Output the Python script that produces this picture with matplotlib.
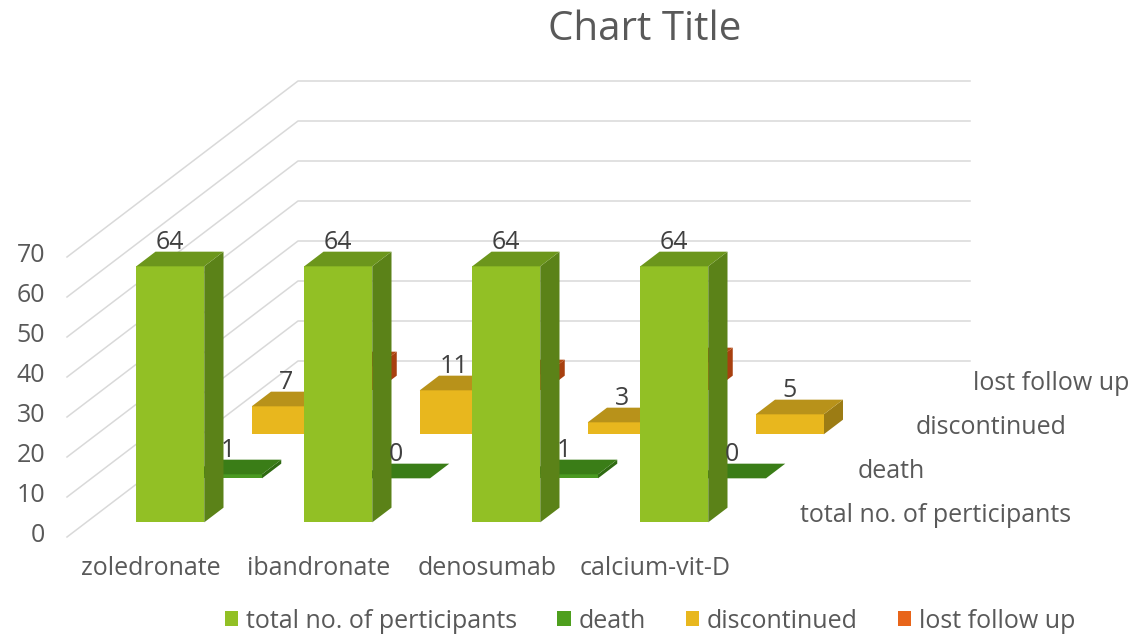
import numpy as np
import matplotlib
matplotlib.use("Agg")
import matplotlib.pyplot as plt
from matplotlib.patches import Polygon, Patch

# ---------------- data ----------------
categories = ["zoledronate", "ibandronate", "denosumab", "calcium-vit-D"]
series_names = ["total no. of perticipants", "death", "discontinued", "lost follow up"]
total_participants = [64, 64, 64, 64]
death = [1, 0, 1, 0]
discontinued = [7, 11, 3, 5]
lost_follow_up = [6, 4, 7, np.nan]
y_ticks = [0, 10, 20, 30, 40, 50, 60, 70]
show_labels = [True, True, True, False]

series_values = [total_participants, death, discontinued, lost_follow_up]

# face colours: (front, top, side)
face_colors = [
    ("#92C025", "#6C961C", "#5B8218"),
    ("#4A9A22", "#3A7D17", "#2F6A12"),
    ("#E8B71E", "#B8921A", "#9C7C14"),
    ("#E8651A", "#B54A12", "#A8400F"),
]
legend_colors = ["#92C025", "#4E9F1E", "#E8B71E", "#E8651A"]

plt.rcParams["font.family"] = ["Open Sans", "DejaVu Sans"]

W, H = 1137, 638
fig = plt.figure(figsize=(W / 100, H / 100), dpi=100)
ax = fig.add_axes([0, 0, 1, 1])

# oblique projection: category position u, value v, depth d
DX = 57.75 / 168.0   # category units per depth row
DY = 11.0            # value units per depth row
X_LEFT, X_PIX = 67.0, 168.0
Y_ZERO, Y_PIX = 537.0, 4.0
ax.set_xlim((0 - X_LEFT) / X_PIX, (W - X_LEFT) / X_PIX)
ax.set_ylim((Y_ZERO - H) / Y_PIX, Y_ZERO / Y_PIX)
ax.axis("off")


def proj(u, v, d):
    return (u + d * DX, v + d * DY)


n_cat = len(categories)
n_ser = len(series_names)
grid_col = "#D9D9D9"

# gridlines: back wall and left wall
for t in y_ticks:
    p0 = proj(0, t, 0)
    p1 = proj(0, t, n_ser)
    p2 = proj(n_cat, t, n_ser)
    ax.plot([p0[0], p1[0], p2[0]], [p0[1], p1[1], p2[1]], color=grid_col, lw=1.1, zorder=1)

bar_w = 68.0 / 168.0


def draw_bar(uc, row, val, cols, z):
    u0, u1 = uc - bar_w / 2, uc + bar_w / 2
    d0, d1 = row + 1 / 3, row + 2 / 3
    front = [proj(u0, 0, d0), proj(u1, 0, d0), proj(u1, val, d0), proj(u0, val, d0)]
    top = [proj(u0, val, d0), proj(u1, val, d0), proj(u1, val, d1), proj(u0, val, d1)]
    side = [proj(u1, 0, d0), proj(u1, 0, d1), proj(u1, val, d1), proj(u1, val, d0)]
    ax.add_patch(Polygon(side, closed=True, fc=cols[2], ec="none", zorder=z))
    ax.add_patch(Polygon(front, closed=True, fc=cols[0], ec="none", zorder=z))
    ax.add_patch(Polygon(top, closed=True, fc=cols[1], ec="none", zorder=z))


z = 2
for row in range(n_ser - 1, -1, -1):
    for ci in range(n_cat):
        val = series_values[row][ci]
        if val is None or np.isnan(val):
            continue
        draw_bar(ci + 0.5, row, val, face_colors[row], z)
        z += 1

# value labels
for row in range(n_ser):
    if not show_labels[row]:
        continue
    for ci in range(n_cat):
        val = series_values[row][ci]
        if val is None or np.isnan(val):
            continue
        x, y = proj(ci + 0.5, val, row + 1 / 3)
        ax.text(x, y + 2.8, f"{val:g}", ha="center", va="bottom",
                fontsize=18, color="#404040", zorder=100)

# y tick labels
for t in y_ticks:
    x, y = proj(-22.0 / 168.0, t, 0)
    ax.text(x, y + 0.3, str(t), ha="right", va="center", fontsize=18, color="#595959")

# category labels
for ci, c in enumerate(categories):
    x, y = proj(ci + 0.5, -7.8, 0)
    ax.text(x, y, c, ha="center", va="center", fontsize=18, color="#595959")

# series (depth) labels
for si, s in enumerate(series_names):
    x, y = proj(n_cat + 32.0 / 168.0, 0, si + 0.5)
    ax.text(x, y, s, ha="left", va="center", fontsize=18, color="#595959")

fig.text(645 / W, 1 - 30 / H, "Chart Title", ha="center", va="center",
         fontsize=29, color="#595959")

handles = [Patch(facecolor=c, edgecolor="none") for c in legend_colors]
fig.legend(handles, series_names, loc="center", bbox_to_anchor=(650 / W, 1 - 621 / H),
           ncol=4, frameon=False, fontsize=18, labelcolor="#595959",
           handlelength=0.55, handleheight=0.55, handletextpad=0.3, columnspacing=1.6)

fig.savefig("out.png", dpi=100)
